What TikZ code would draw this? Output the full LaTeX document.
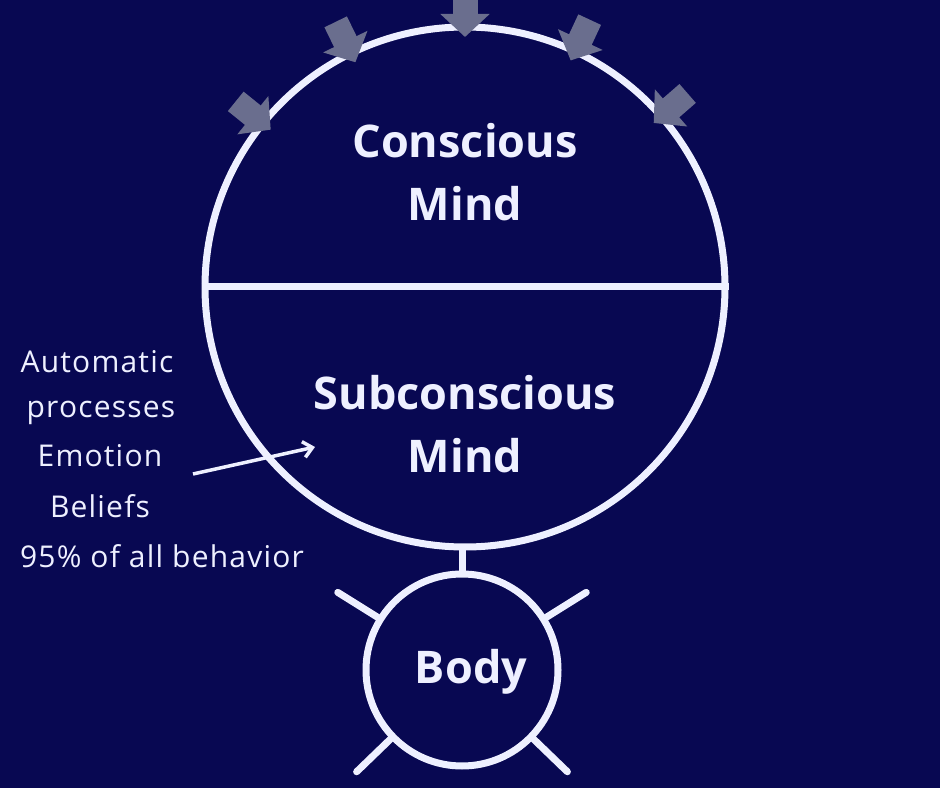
\documentclass[tikz,border=0pt]{standalone}
\usepackage{fontspec}
\setmainfont{Open Sans}
\newfontfamily\sidefont[LetterSpace=4]{Open Sans}
\usetikzlibrary{arrows.meta, calc}

\definecolor{navybg}{RGB}{8,8,82}
\definecolor{ringwhite}{RGB}{238,240,255}
\definecolor{arrowgray}{RGB}{106,110,142}

\begin{document}
\begin{tikzpicture}[x=1pt, y=1pt,
    ring/.style={circle, draw=ringwhite, line width=7pt, inner sep=0pt},
    title/.style={text=ringwhite, align=center, inner sep=0pt, font=\bfseries\fontsize{45}{63}\selectfont},
    side/.style={text=ringwhite, anchor=base, inner sep=0pt, font=\sidefont\fontsize{30}{34}\selectfont},
    wline/.style={draw=ringwhite, line width=7pt},
    inarrow/.style={draw=arrowgray, line width=25pt, -{Triangle[width=48pt, length=23pt]}},
    pointer/.style={draw=ringwhite, line width=3.5pt, -{Straight Barb[length=9pt, width=16pt]}}
]
\clip (0,0) rectangle (940,788);
\fill[navybg] (0,0) rectangle (940,788);

\node[ring, minimum size=520pt] (mind) at (465,501) {};
\node[ring, minimum size=192pt] (body) at (462,118) {};

\draw[wline] (mind.west) -- (mind.east);
\draw[wline] (body.north) -- (body.north |- mind.south);
\foreach \a in {148,32,224,316}
    \draw[wline, line cap=round] (body.\a) -- ++(\a:47);

% arrows coming in from above
\foreach \a in {141,116,90,65,41}{
    \coordinate (out\a) at ($(mind.center)+(\a:295)$);
    \coordinate (in\a) at ($(mind.center)+(\a:250)$);
    \draw[inarrow] (out\a) -- (in\a);
}

\node[title] (conscious) at (465,616) {Conscious\\Mind};
\node[title] (subconscious) at (465,364) {Subconscious\\Mind};
\node[title, anchor=base] (bodytext) at (471,105) {Body};

\node[side] (auto) at (97,415) {Automatic};
\node[side] (proc) at (101,370) {processes};
\node[side] (emo) at (100,321) {Emotion};
\node[side] (bel) at (100,270) {Beliefs};
\node[side] (pct) at (162,220) {95\% of all behavior};

\coordinate (ptail) at (193,314);
\coordinate (phead) at (315,341);
\draw[pointer] (ptail) -- (phead);
\end{tikzpicture}
\end{document}
